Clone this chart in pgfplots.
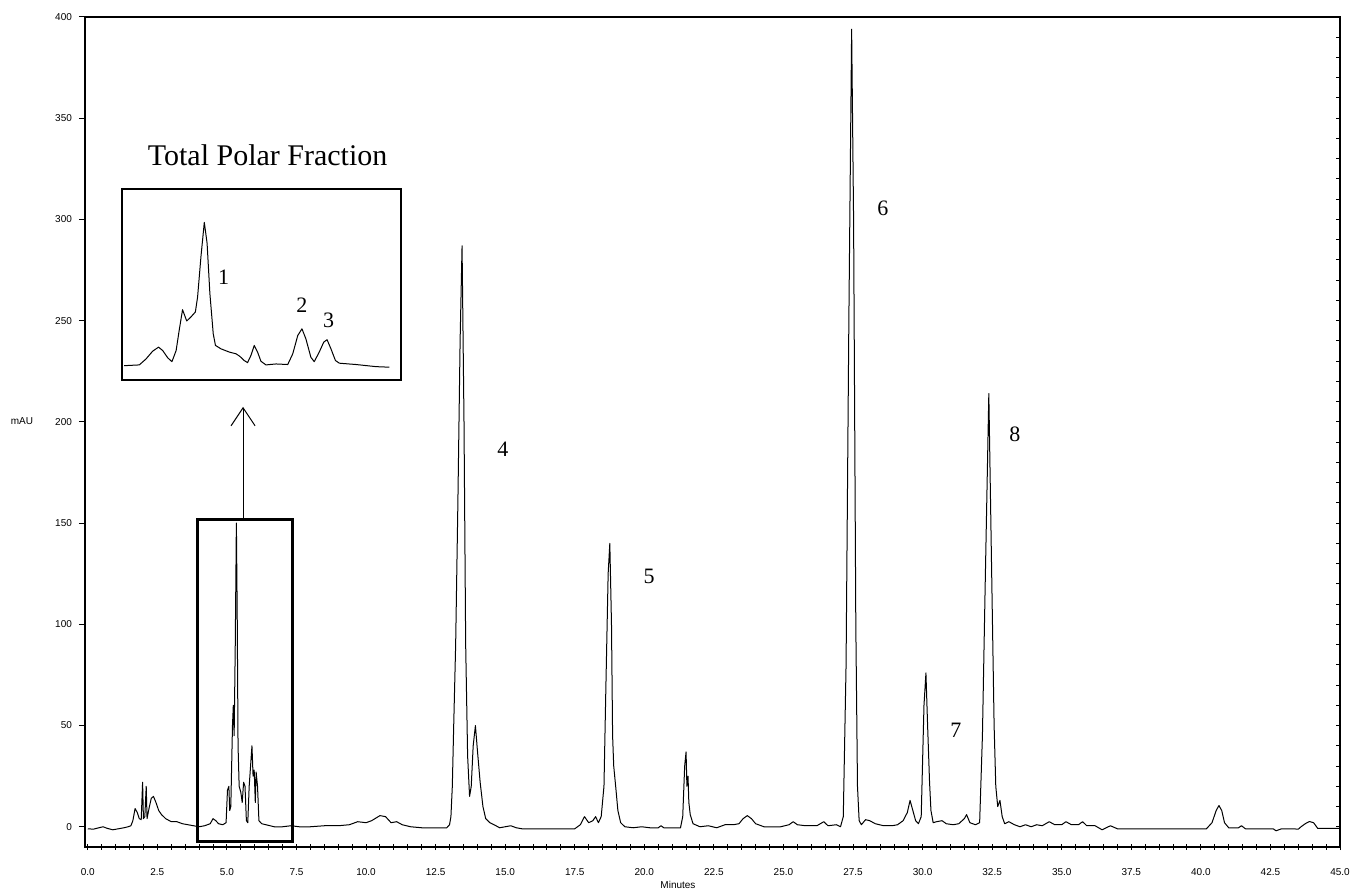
\documentclass[border=0pt]{standalone}
\usepackage{fontspec}
\setmainfont{Liberation Serif}
\setsansfont{Liberation Sans}
\usepackage{pgfplots}
\pgfplotsset{compat=1.18}
\usetikzlibrary{arrows.meta}

\newcommand\tickfont{\sffamily\fontsize{5}{6}\selectfont}
\newcommand\peakfont{\rmfamily\fontsize{11}{13}\selectfont}

\begin{document}
\begin{tikzpicture}
\path[use as bounding box] (-42.5pt,-21.5pt) rectangle (636pt,423.5pt);

% main chromatogram
\begin{axis}[
    scale only axis, width=627.5pt, height=415pt,
    xmin=-0.1, xmax=45, ymin=-10, ymax=400,
    clip mode=individual,
    axis line style={line width=0.8pt},
    xtick={0,2.5,5,7.5,10,12.5,15,17.5,20,22.5,25,27.5,30,32.5,35,37.5,40,42.5,45},
    minor x tick num=4,
    ytick={0,50,...,400},
    xtick pos=bottom, ytick pos=left,
    xtick align=center, ytick align=outside,
    major tick length=3pt, minor tick length=2.5pt,
    tick style={black, line width=0.5pt},
    /pgf/number format/assume math mode=true,
    xticklabel style={font=\tickfont, yshift=-5pt, text height=4pt, text depth=0pt,
        /pgf/number format/.cd, fixed, fixed zerofill, precision=1},
    yticklabel style={font=\tickfont},
]
\addplot[black, line width=0.5pt, mark=none, line join=round] coordinates {
(0.0,-1)(0.2,-1.2)(0.4,-0.5)(0.55,0)(0.7,-0.8)(0.9,-1.5)(1.1,-1)(1.3,-0.5)
(1.45,0)(1.55,0.5)(1.62,3)(1.7,9)(1.78,7)(1.85,4)(1.92,3.5)(1.97,22)(2.0,4)
(2.05,5)(2.1,20)(2.13,4)(2.2,9)(2.28,14)(2.36,15)(2.45,12)(2.55,8)(2.65,6)
(2.8,4)(3.0,2.5)(3.2,2.5)(3.4,1.5)(3.6,1)(3.8,0.5)(4.0,0)(4.2,0.5)(4.4,1.5)
(4.5,4)(4.6,3)(4.7,1.5)(4.85,1)(4.97,2)(5.02,18)(5.07,20)(5.1,8)(5.14,10)
(5.2,50)(5.23,60)(5.26,45)(5.3,90)(5.34,150)(5.37,105)(5.4,40)(5.44,20)
(5.5,17)(5.55,12)(5.6,22)(5.65,20)(5.7,3)(5.75,2)(5.8,20)(5.85,30)(5.9,40)
(5.94,25)(5.98,28)(6.02,12)(6.05,27)(6.1,20)(6.15,3)(6.25,1.5)(6.4,1)
(6.7,0)(7.0,0)(7.3,0.5)(7.6,0)(8.0,0)(8.5,0.5)(9.0,0.5)(9.4,1)(9.7,2.5)
(10.0,2)(10.2,3)(10.5,5.5)(10.7,5)(10.9,2)(11.1,2.5)(11.3,1)(11.6,0)
(12.0,-0.5)(12.5,-0.5)(12.9,-0.5)(13.0,1)(13.05,5)(13.1,20)(13.15,50)
(13.22,90)(13.3,160)(13.38,240)(13.45,287)(13.52,200)(13.58,90)(13.65,35)
(13.72,15)(13.78,20)(13.85,40)(13.93,50)(14.0,38)(14.1,22)(14.2,10)
(14.3,4)(14.45,2)(14.6,1)(14.8,-0.5)(15.0,0)(15.2,0.5)(15.4,-0.5)(15.6,-1)
(16.0,-1)(17.5,-1)(17.7,1)(17.85,5)(18.0,2)(18.15,3)(18.25,5)(18.35,2)
(18.45,5)(18.55,20)(18.62,70)(18.7,125)(18.76,140)(18.82,100)(18.86,45)
(18.9,30)(18.97,20)(19.05,8)(19.15,2)(19.3,0)(19.6,-0.5)(19.9,0)(20.2,-0.5)
(20.5,-0.5)(20.6,0.5)(20.7,-0.5)(21.0,-0.5)(21.3,-0.5)(21.38,5)(21.45,30)
(21.5,37)(21.53,20)(21.57,25)(21.6,12)(21.65,6)(21.75,1.5)(22.0,0)
(22.3,0.5)(22.6,-0.5)(22.9,1)(23.2,1)(23.4,1.5)(23.55,4)(23.7,5.5)
(23.85,4)(24.0,1.5)(24.3,0)(24.6,0)(24.9,0)(25.2,1)(25.35,2.5)(25.5,1)
(25.8,0.5)(26.2,0.5)(26.45,2.5)(26.6,0.5)(26.9,1)(27.05,0)(27.15,5)
(27.25,80)(27.35,250)(27.45,394)(27.52,300)(27.6,100)(27.66,20)(27.72,3)
(27.8,1)(27.95,3.5)(28.1,3)(28.3,1.5)(28.6,0.5)(28.9,0.5)(29.1,1)(29.3,3)
(29.45,7)(29.55,13)(29.65,8)(29.75,3)(29.85,1.5)(29.95,5)(30.05,60)
(30.12,76)(30.18,50)(30.25,22)(30.3,8)(30.38,2)(30.5,2.5)(30.7,3)
(30.85,1.5)(31.1,1)(31.3,1.5)(31.5,4)(31.58,6)(31.7,2)(31.9,1)(32.05,2)
(32.15,45)(32.25,120)(32.38,214)(32.5,110)(32.57,50)(32.63,20)(32.7,10)
(32.78,13)(32.86,5)(32.95,1.5)(33.1,2.5)(33.3,1)(33.5,0)(33.7,1)(33.9,0)
(34.1,1)(34.3,0.5)(34.55,2.5)(34.75,1)(35.0,1)(35.15,2.5)(35.35,1)(35.6,1)
(35.75,2.5)(35.9,0.5)(36.2,0.5)(36.45,-1.5)(36.6,-0.5)(36.75,0.5)(37.0,-1)
(37.2,-1)(38.0,-1)(39.0,-1)(40.2,-1)(40.4,2)(40.55,8)(40.65,10.5)(40.75,8)
(40.85,2)(41.0,-0.5)(41.35,-0.5)(41.46,0.5)(41.6,-1)(42.0,-1)(42.6,-1)
(42.7,-2)(42.9,-1)(43.3,-1)(43.5,-1.2)(43.6,0)(43.75,1.5)(43.9,2.6)
(44.05,2)(44.2,-0.8)(45.0,-0.8)
};
\draw[line width=1.5pt] (axis cs:3.96,-7.4) rectangle (axis cs:7.37,152);
\draw[line width=0.5pt, -{Straight Barb[length=9pt,width=12pt]}]
    (axis cs:5.58,152) -- (axis cs:5.58,207.4);
\node[font=\peakfont] at (axis cs:14.92,186.6) {4};
\node[font=\peakfont] at (axis cs:20.17,123.8) {5};
\node[font=\peakfont] at (axis cs:28.57,305.4) {6};
\node[font=\peakfont] at (axis cs:31.2,47.5) {7};
\node[font=\peakfont] at (axis cs:33.32,194) {8};
\node[font=\tickfont] at (rel axis cs:0,0.513) [xshift=-31.5pt] {mAU};
\node[font=\tickfont] at (rel axis cs:0.4725,0) [yshift=-19pt] {Minutes};
\end{axis}

% minor ticks on the right spine
\begin{axis}[
    scale only axis, width=627.5pt, height=415pt,
    xmin=-0.1, xmax=45, ymin=-10, ymax=400,
    axis x line=none, axis y line*=right,
    axis line style={line width=0.8pt},
    ytick={0,10,...,390}, yticklabels={},
    ytick align=inside, major tick length=2pt,
    tick style={black, line width=0.5pt},
]
\end{axis}

% inset: total polar fraction
\begin{axis}[
    at={(18.5pt,233.5pt)}, anchor=south west,
    scale only axis, width=139.5pt, height=95.5pt,
    xmin=0, xmax=100, ymin=0, ymax=100,
    xtick=\empty, ytick=\empty,
    axis line style={line width=1pt}, clip=false,
]
\addplot[black, line width=0.5pt, mark=none, line join=round] coordinates {
(0.8,7.5)(6.2,7.9)(8.6,11)(11,15.1)(13.1,17.2)(14.6,15.4)(16.4,11.6)
(17.9,9.6)(19.4,15.4)(20.5,26)(21.7,36.8)(23.2,30.9)(24.7,33)(26.3,35.6)
(27.1,43.5)(28.3,64.6)(29.5,82.5)(30.5,71.6)(31.5,45.3)(32.7,24.2)
(33.5,18.1)(35.5,16.3)(38.5,14.6)(40.9,13.7)(42.3,12.3)(43.8,10.2)(45,9.1)
(46.2,12.8)(47.4,18.1)(48.6,14.6)(49.8,9.8)(51.6,7.9)(55.2,8.4)(59.4,8.1)
(61.2,13.7)(63,23.3)(64.5,26.8)(65.9,21.6)(67.7,11.9)(68.9,9.6)(70.7,14.6)
(72.3,19.8)(73.5,21.1)(74.9,16.3)(76.5,10.2)(77.9,8.8)(83.9,8.1)(91,7)
(95.8,6.7)
};
\node[font=\peakfont] at (axis cs:36.4,54) {1};
\node[font=\peakfont] at (axis cs:64.5,39.1) {2};
\node[font=\peakfont] at (axis cs:74.1,31.2) {3};
\node[font=\rmfamily\fontsize{15}{18}\selectfont] at (rel axis cs:0.522,1)
    [yshift=17pt] {Total Polar Fraction};
\end{axis}
\end{tikzpicture}
\end{document}
